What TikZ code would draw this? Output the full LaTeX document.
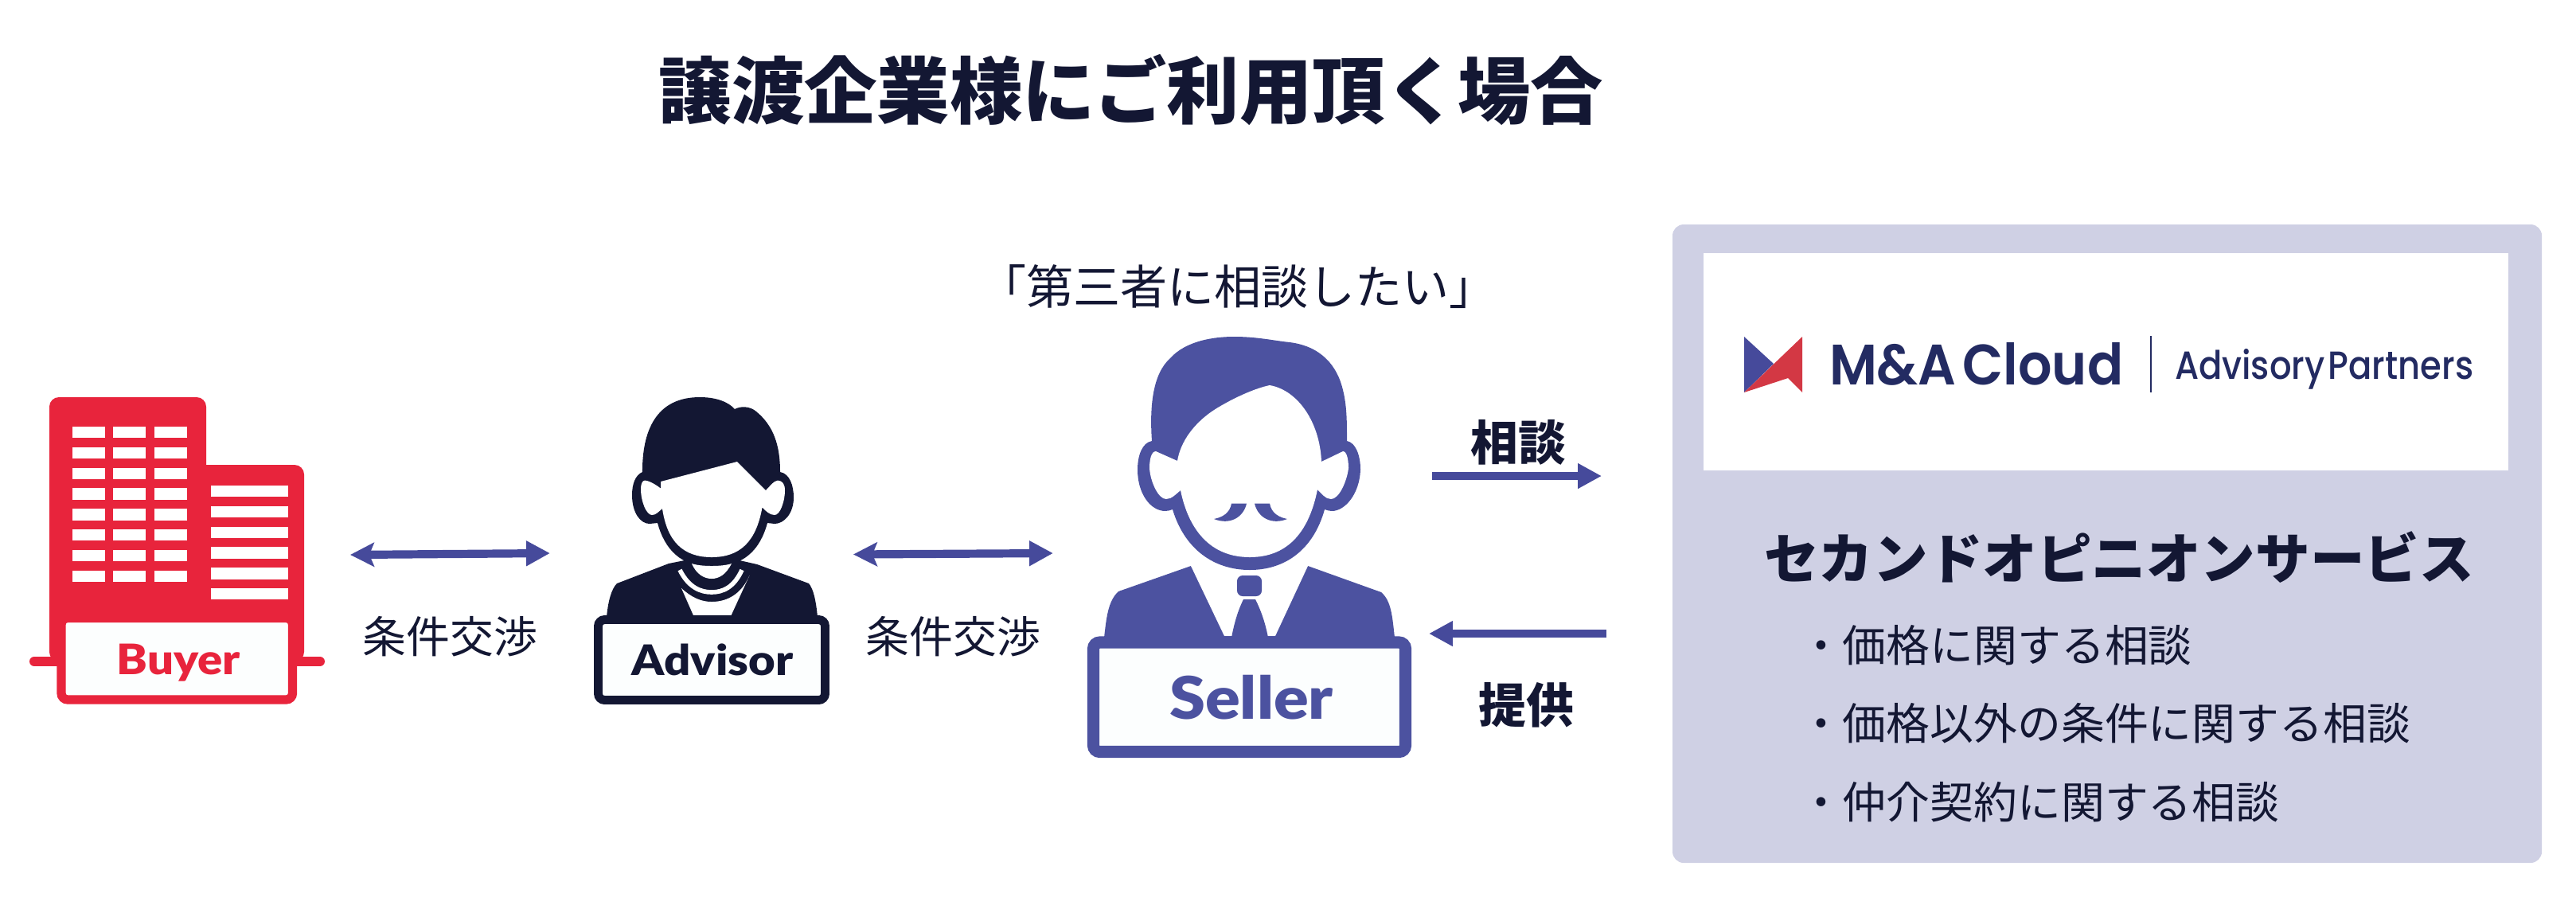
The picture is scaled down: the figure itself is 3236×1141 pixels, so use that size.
\documentclass[tikz,border=0pt]{standalone}
\usepackage{fontspec}
\setmainfont{Noto Sans CJK JP}
\newfontfamily\signfont[FakeStretch=1.1]{Lato Black}
\newfontfamily\logofont{Poppins Medium}
\newfontfamily\logoheavy{Poppins SemiBold}
\usetikzlibrary{arrows.meta}
\definecolor{inkdark}{HTML}{131733}
\definecolor{buyerred}{HTML}{E8243C}
\definecolor{sellerblue}{HTML}{4C52A0}
\definecolor{flowblue}{HTML}{464A9B}
\definecolor{panelgrey}{HTML}{CFD0E4}
\definecolor{signwhite}{HTML}{FCFEFE}
\definecolor{logonavy}{HTML}{232B62}
\definecolor{logored}{HTML}{D33844}
\begin{document}
\begin{tikzpicture}[
  x=0.01cm, y=-0.01cm,
  every node/.style={inner sep=0pt, outer sep=0pt, text=inkdark},
  plainlabel/.style={font=\fontsize{15.6pt}{18pt}\selectfont},
  boldlabel/.style={font=\fontsize{17pt}{20pt}\selectfont\bfseries},
  signlabel/.style={anchor=base, font=\signfont},
  frame/.style={fill=signwhite, rounded corners=2.3pt},
  duplex/.style={{Stealth[length=8.5pt,width=8.5pt,inset=1.7pt]}-{Triangle[length=8.5pt,width=8.5pt]}, line width=2.9pt, draw=flowblue},
  oneway/.style={-{Triangle[length=8.5pt,width=8.5pt]}, line width=2.9pt, draw=flowblue}
]
\useasboundingbox (0,0) rectangle (3236,1141);

\node[font=\fontsize{26pt}{30pt}\selectfont\bfseries] (title) at (1421,113) {譲渡企業様にご利用頂く場合};
\node[font=\fontsize{16.8pt}{20pt}\selectfont] (quote) at (1555,360) {「第三者に相談したい」};

% buyer
\fill[buyerred, rounded corners=3.4pt] (62,499) rectangle (259,831);
\fill[buyerred, rounded corners=3.4pt] (200,584) rectangle (382,831);
\foreach \row in {0,...,7}
  \foreach \col in {91,142,194}
    \fill[white] (\col,536+\row*25.8) rectangle ++(40.5,14.4);
\foreach \row in {0,...,5}
  \fill[white] (265,610+\row*25.8) rectangle ++(97,14.4);
\draw[buyerred, line width=3.4pt, line cap=round] (43,831) -- (402,831);
\draw[frame, draw=buyerred, line width=3.2pt] (77,776.5) rectangle (367.5,879);
\node[signlabel, text=buyerred, font=\signfont\fontsize{15pt}{18pt}\selectfont] (buyer) at (224.5,847) {Buyer};

% advisor
\fill[inkdark] (762,775) .. controls (764,755) and (768,740) .. (775,733) -- (840,708) -- (860,704) -- (929,704) -- (951,709) -- (1016,733) .. controls (1022,740) and (1025,755) .. (1027,775) -- cycle;
\fill[inkdark] (807,596) .. controls (806,540) and (825,499) .. (879,499) .. controls (900,499) and (915,505) .. (923,514) .. controls (930,510) and (942,510) .. (950,517) .. controls (972,535) and (980,560) .. (980,593)
  .. controls (992,595) and (997,610) .. (997,625) .. controls (997,645) and (985,658) .. (973,658) -- (964,657)
  .. controls (955,690) and (935,712) .. (894,712) .. controls (855,712) and (835,690) .. (826,657)
  -- (816,658) .. controls (805,658) and (794,645) .. (794,622) .. controls (794,608) and (798,597) .. (807,593) -- cycle;
\fill[white] (830,605) -- (926,580) -- (962,616) .. controls (968,610) and (972,604) .. (977,603.6) .. controls (983,604) and (986,608) .. (986,616) .. controls (986,630) and (980,647) .. (973,647) .. controls (967,647) and (962,642) .. (957.5,637.5)
  .. controls (950,680) and (930,700) .. (894,700) .. controls (858,700) and (838,680) .. (832,639)
  .. controls (827,643) and (824,647) .. (819,647) .. controls (812,647) and (805,630) .. (805,614) .. controls (805,608) and (807,603.6) .. (810,603.6) .. controls (816,604) and (824,609) .. (830,613.6) -- cycle;
\fill[white] (869,708) .. controls (880,712) and (908,712) .. (919,708) .. controls (912,722) and (903,727) .. (894,727) .. controls (885,727) and (875,722) .. (869,708) -- cycle;
\draw[white, line width=1.6pt] (854,716) .. controls (865,738) and (880,744) .. (894,744) .. controls (908,744) and (922,738) .. (932,716);
\fill[white] (856,739) .. controls (868,750) and (880,756) .. (894,756) .. controls (915,756) and (932,745) .. (941.5,723) -- (918.5,773) -- (871,773) -- cycle;
\draw[frame, draw=inkdark, line width=3.1pt] (751.5,778.5) rectangle (1036.5,879.5);
\node[signlabel, font=\signfont\fontsize{15pt}{18pt}\selectfont] (advisor) at (895,848) {Advisor};

% seller
\fill[sellerblue] (1387,801) .. controls (1390,775) and (1392,755) .. (1405,743) -- (1496,711) -- (1643,711) -- (1735,744) .. controls (1748,755) and (1749,775) .. (1752,801) -- cycle;
\fill[white] (1496,711) -- (1643,711) -- (1602,799) -- (1538,799) -- cycle;
\fill[sellerblue] (1447,554) .. controls (1444,510) and (1448,470) .. (1470,450) .. controls (1490,428) and (1525,423) .. (1550,423) .. controls (1580,423) and (1600,428) .. (1620,430) .. controls (1660,435) and (1680,460) .. (1687,490) .. controls (1692,510) and (1692,530) .. (1692,554)
  .. controls (1703,556) and (1709,572) .. (1709,590) .. controls (1708,620) and (1690,642) .. (1673,642) .. controls (1670,642) and (1667,641) .. (1664,640)
  .. controls (1650,690) and (1615,716) .. (1570,716) .. controls (1525,716) and (1488,690) .. (1473,640)
  .. controls (1470,641) and (1467,642) .. (1464,642) .. controls (1445,642) and (1429,620) .. (1429,590) .. controls (1429,572) and (1435,556) .. (1447,554) -- cycle;
\fill[white] (1479,579) .. controls (1483,555) and (1500,530) .. (1530,512) .. controls (1555,497) and (1580,487) .. (1595,484) .. controls (1630,490) and (1658,530) .. (1660,580)
  -- (1687,567) .. controls (1692,567) and (1694,578) .. (1694,588) .. controls (1692,605) and (1682,627) .. (1672,627) .. controls (1665,627) and (1660,620) .. (1655,615)
  .. controls (1645,665) and (1620,700) .. (1570,700) .. controls (1520,700) and (1493,665) .. (1483,616)
  .. controls (1478,620) and (1472,627) .. (1465,627) .. controls (1455,627) and (1445,605) .. (1444,588) .. controls (1444,578) and (1446,567) .. (1452,567) -- cycle;
\fill[sellerblue] (1525,652) .. controls (1535,650) and (1545,645) .. (1547,632.5) -- (1566,632.5) .. controls (1562,650) and (1545,660) .. (1525,652) -- cycle;
\fill[sellerblue] (1617,652) .. controls (1607,650) and (1597,645) .. (1595,632.5) -- (1576,632.5) .. controls (1580,650) and (1597,660) .. (1617,652) -- cycle;
\fill[sellerblue, rounded corners=2pt] (1554,723) rectangle (1585,749);
\fill[sellerblue] (1547,801) .. controls (1551,780) and (1556,765) .. (1562,753) -- (1577,753) .. controls (1583,765) and (1589,780) .. (1593,801) -- cycle;
\draw[frame, draw=sellerblue, line width=4.3pt] (1373.5,807) rectangle (1765.5,944.5);
\node[signlabel, text=sellerblue, font=\signfont\fontsize{21pt}{24pt}\selectfont] (seller) at (1572,903) {Seller};

% panel
\fill[panelgrey, rounded corners=4pt] (2101,282) rectangle (3193,1084);
\fill[white] (2140,318) rectangle (3151,591);
\fill[flowblue] (2191,423) -- (2228,457) -- (2191,493) -- cycle;
\fill[logored] (2264,423) -- (2264,493) -- (2246,475) -- (2191,493) -- cycle;
\node[anchor=base west, text=logonavy] (cloud) at (2298,483) {\resizebox{3.69cm}{0.53cm}{\logoheavy M\&A\hspace{0.12em}Cloud}};
\draw[logonavy, line width=0.6pt] (2702,422) -- (2702,493);
\node[anchor=base west, text=logonavy] (partners) at (2732,476) {\resizebox{3.75cm}{0.38cm}{\logofont Advisory\hspace{0.1em}Partners}};

\node[font=\fontsize{19.5pt}{23pt}\selectfont\bfseries] (service) at (2662,700) {セカンドオピニオンサービス};
\node[plainlabel, anchor=west] (point1) at (2260,811) {・価格に関する相談};
\node[plainlabel, anchor=west] (point2) at (2260,909) {・価格以外の条件に関する相談};
\node[plainlabel, anchor=west] (point3) at (2260,1008) {・仲介契約に関する相談};

% connectors
\coordinate (buyerport) at (440,697);
\coordinate (advisorwest) at (691,695);
\coordinate (advisorport) at (1072,696.5);
\coordinate (sellerwest) at (1323,695);
\coordinate (sellerout) at (1799,598);
\coordinate (panelin) at (2012,598);
\coordinate (panelout) at (2018,796);
\coordinate (sellerin) at (1795,796);

\draw[duplex] (buyerport) -- (advisorwest);
\draw[duplex] (advisorport) -- (sellerwest);
\draw[oneway] (sellerout) -- (panelin);
\draw[oneway] (panelout) -- (sellerin);

\node[plainlabel] (terms1) at (565.5,800) {条件交渉};
\node[plainlabel] (terms2) at (1197.5,800) {条件交渉};
\node[boldlabel] (consult) at (1907,556) {相談};
\node[boldlabel] (provide) at (1917,886) {提供};

\end{tikzpicture}
\end{document}
